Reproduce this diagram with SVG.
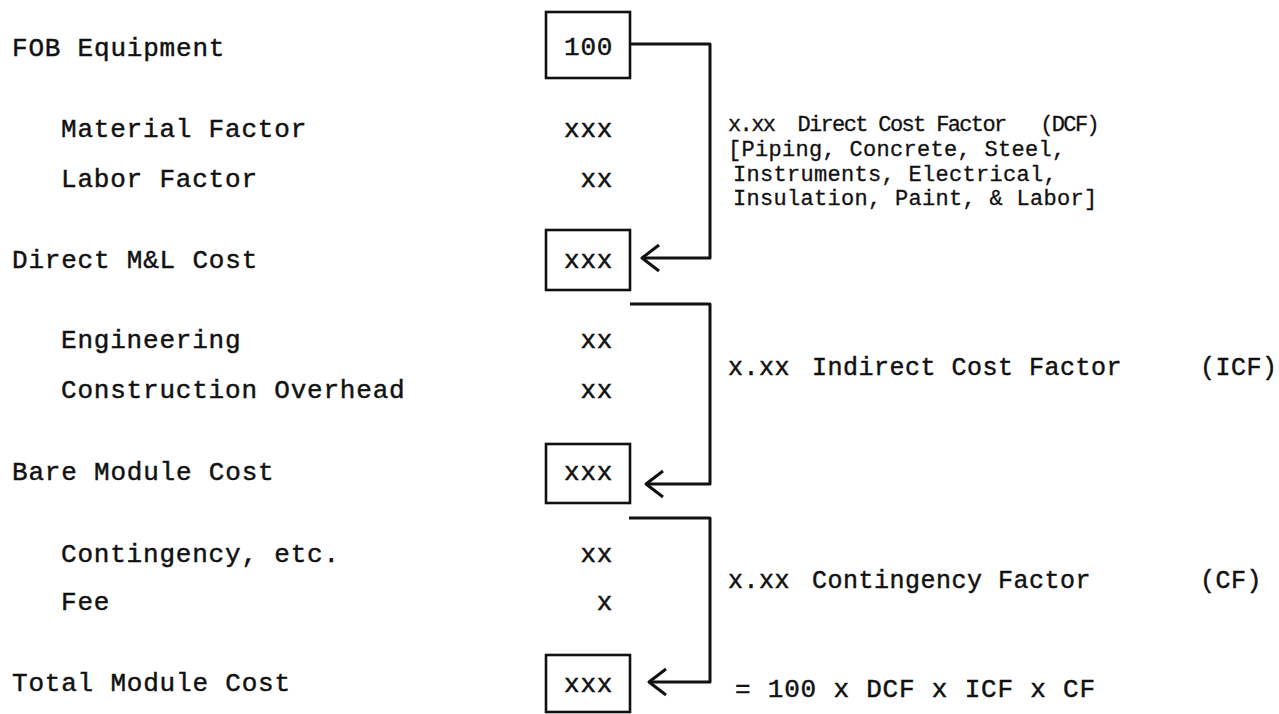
<svg xmlns="http://www.w3.org/2000/svg" width="1279" height="714" viewBox="0 0 1279 714" xml:space="preserve">
<defs>
<style>
text{white-space:pre}
.t{font-family:"Liberation Mono","DejaVu Sans Mono",monospace;font-size:26px;letter-spacing:0.8px;fill:#111;stroke:#111;stroke-width:0.45}
.r{font-family:"Liberation Mono","DejaVu Sans Mono",monospace;font-size:25px;letter-spacing:0.5px;fill:#111;stroke:#111;stroke-width:0.45}
.s{font-family:"Liberation Mono","DejaVu Sans Mono",monospace;font-size:22px;letter-spacing:0.3px;fill:#111;stroke:#111;stroke-width:0.3}
.box{fill:none;stroke:#111;stroke-width:2.6}
.ln{fill:none;stroke:#111;stroke-width:3;stroke-linejoin:round}
</style>
</defs>
<rect width="1279" height="714" fill="#fff"/>
<g id="labels">
<text class="t" x="12" y="56">FOB Equipment</text>
<text class="t" x="61" y="137">Material Factor</text>
<text class="t" x="61" y="187">Labor Factor</text>
<text class="t" x="12" y="268">Direct M&amp;L Cost</text>
<text class="t" x="61" y="348">Engineering</text>
<text class="t" x="61" y="398">Construction Overhead</text>
<text class="t" x="12" y="480">Bare Module Cost</text>
<text class="t" x="61" y="562">Contingency, etc.</text>
<text class="t" x="61" y="610">Fee</text>
<text class="t" x="12" y="691">Total Module Cost</text>
</g>
<g id="node-fob">
<rect class="box" x="546" y="12" width="84" height="66"/>
<text class="t" x="564" y="55">100</text>
</g>
<g id="values-dcf">
<text class="t" x="564" y="137">xxx</text>
<text class="t" x="580.4" y="187">xx</text>
</g>
<g id="node-direct">
<rect class="box" x="546" y="230" width="84" height="60"/>
<text class="t" x="564" y="268">xxx</text>
</g>
<g id="values-icf">
<text class="t" x="580.4" y="348">xx</text>
<text class="t" x="580.4" y="398">xx</text>
</g>
<g id="node-bare">
<rect class="box" x="546" y="444" width="84" height="59"/>
<text class="t" x="564" y="480">xxx</text>
</g>
<g id="values-cf">
<text class="t" x="580.4" y="562">xx</text>
<text class="t" x="596.8" y="610">x</text>
</g>
<g id="node-total">
<rect class="box" x="546" y="655" width="84" height="57"/>
<text class="t" x="564" y="692">xxx</text>
</g>
<g id="connectors">
<polyline class="ln" points="630,44 710,44 710,258 642,258"/>
<polyline class="ln" points="659,245 642,258 659,271"/>
<polyline class="ln" points="630,304 710,304 710,484 646,484"/>
<polyline class="ln" points="663,471 646,484 663,497"/>
<polyline class="ln" points="629,518 710,518 710,682 649,682"/>
<polyline class="ln" points="666,669 649,682 666,695"/>
</g>
<g id="factor-dcf">
<text class="s" x="728" y="131" textLength="372" lengthAdjust="spacing">x.xx  Direct Cost Factor   (DCF)</text>
<text class="s" x="728" y="156">[Piping, Concrete, Steel,</text>
<text class="s" x="733" y="181">Instruments, Electrical,</text>
<text class="s" x="733" y="205">Insulation, Paint, &amp; Labor]</text>
</g>
<g id="factor-icf">
<text class="r" y="375"><tspan x="728">x.xx</tspan><tspan x="812">Indirect Cost Factor</tspan><tspan x="1200">(ICF)</tspan></text>
</g>
<g id="factor-cf">
<text class="r" y="588"><tspan x="728">x.xx</tspan><tspan x="812">Contingency Factor</tspan><tspan x="1200">(CF)</tspan></text>
</g>
<g id="formula">
<text class="t" x="735" y="697" letter-spacing="0.5">= 100 x DCF x ICF x CF</text>
</g>
</svg>
